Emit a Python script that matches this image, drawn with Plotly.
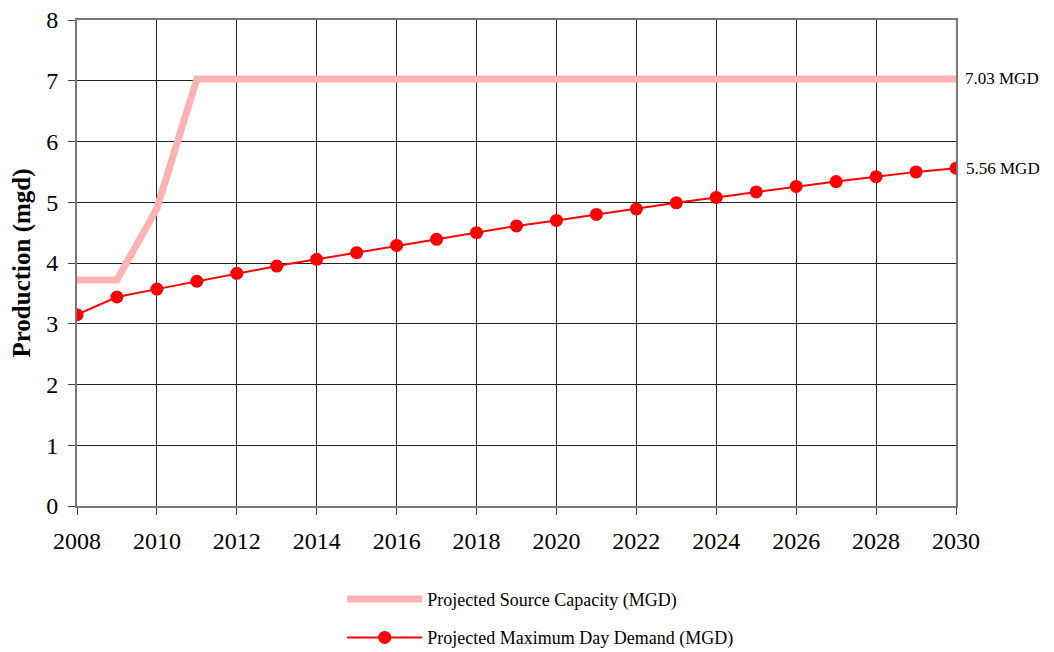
import plotly.graph_objects as go

years = list(range(2008, 2031))
source_capacity = [3.72, 3.72, 4.90] + [7.03] * 20
max_day_demand = [3.15, 3.44, 3.57, 3.70, 3.83, 3.95, 4.06, 4.17, 4.29, 4.39,
                  4.50, 4.61, 4.70, 4.80, 4.89, 4.99, 5.08, 5.17, 5.26, 5.34,
                  5.42, 5.50, 5.56]
end_labels = ["7.03 MGD", "5.56 MGD"]

FONT = "Liberation Serif"

fig = go.Figure()
fig.add_trace(go.Scatter(
    x=years, y=source_capacity, mode="lines",
    name="Projected Source Capacity (MGD)",
    line=dict(color="#FFB2B2", width=7),
    legendgroup="a",
))
fig.add_trace(go.Scatter(
    x=years, y=max_day_demand, mode="lines+markers",
    name="Projected Maximum Day Demand (MGD)",
    line=dict(color="#FF0000", width=2),
    marker=dict(color="#FF0000", size=13),
    legendgroup="b",
))

fig.add_annotation(x=2030, y=source_capacity[-1], text=end_labels[0],
                   xanchor="left", xshift=7, showarrow=False,
                   font=dict(family=FONT, size=17, color="black"))
fig.add_annotation(x=2030, y=max_day_demand[-1], text=end_labels[1],
                   xanchor="left", xshift=8, showarrow=False,
                   font=dict(family=FONT, size=17, color="black"))

fig.update_layout(
    width=1054, height=690,
    margin=dict(l=69, r=106, t=12, b=192),
    paper_bgcolor="white", plot_bgcolor="white",
    font=dict(family=FONT, color="black"),
    showlegend=True,
    legend=dict(
        orientation="v", x=0.527, xanchor="center", y=-0.154, yanchor="top",
        font=dict(family=FONT, size=18, color="black"),
        itemwidth=75, tracegroupgap=12, bgcolor="rgba(0,0,0,0)",
    ),
    xaxis=dict(
        range=[2008, 2030], tickmode="linear", tick0=2008, dtick=2,
        showgrid=True, gridcolor="#222222", gridwidth=1,
        showline=True, linecolor="#777777", linewidth=2, mirror=True,
        ticks="outside", ticklen=7, tickcolor="#444444",
        tickfont=dict(family=FONT, size=24, color="black"),
        ticklabelstandoff=5, zeroline=False, automargin=False,
        ticklabeloverflow="allow",
    ),
    yaxis=dict(
        range=[0, 8], tickmode="linear", tick0=0, dtick=1,
        showgrid=True, gridcolor="#222222", gridwidth=1,
        showline=True, linecolor="#777777", linewidth=2, mirror=True,
        ticks="outside", ticklen=7, tickcolor="#444444",
        tickfont=dict(family=FONT, size=24, color="black"),
        ticklabelstandoff=5, zeroline=False, automargin=False,
        ticklabeloverflow="allow",
        title=dict(text="<b>Production (mgd)</b>",
                   font=dict(family=FONT, size=25, color="black"), standoff=10),
    ),
)

fig.write_html("out.html")
